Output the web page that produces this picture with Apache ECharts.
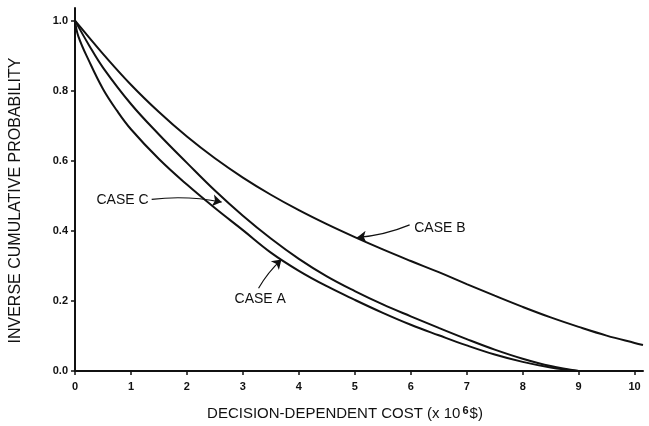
<!DOCTYPE html>
<html>
<head>
<meta charset="utf-8">
<script src="https://cdn.jsdelivr.net/npm/echarts@6/dist/echarts.min.js"></script>
<style>
  html, body { margin: 0; padding: 0; background: #fff; }
  #chart { width: 649px; height: 426px; }
</style>
</head>
<body>
<div id="chart"></div>
<script>
// Decision-dependent cost (10^6 $) against inverse cumulative probability
const costA = [0, 0.06, 0.25, 0.5, 0.75, 1, 1.5, 2, 2.5, 3, 3.5, 4, 4.5, 5, 5.5, 6, 6.5, 7, 7.5, 8, 8.5, 9];
const probA = [1.0, 0.955, 0.885, 0.805, 0.743, 0.69, 0.605, 0.532, 0.465, 0.402, 0.338, 0.286, 0.242, 0.203, 0.166, 0.132, 0.102, 0.073, 0.047, 0.026, 0.01, 0.0];

const costB = [0, 0.25, 0.5, 1, 1.5, 2, 2.5, 3, 3.5, 4, 4.5, 5, 5.5, 6, 6.5, 7, 7.5, 8, 8.5, 9, 9.5, 10, 10.15];
const probB = [1.0, 0.952, 0.905, 0.817, 0.739, 0.669, 0.607, 0.552, 0.503, 0.459, 0.419, 0.382, 0.347, 0.314, 0.282, 0.248, 0.215, 0.183, 0.153, 0.126, 0.101, 0.08, 0.074];

const costC = [0, 0.25, 0.5, 1, 1.5, 2, 2.5, 3, 3.5, 4, 4.5, 5, 5.5, 6, 6.5, 7, 7.5, 8, 8.5, 9];
const probC = [1.0, 0.93, 0.866, 0.762, 0.675, 0.594, 0.515, 0.443, 0.378, 0.32, 0.27, 0.228, 0.19, 0.156, 0.123, 0.091, 0.061, 0.035, 0.014, 0.0];

const xTicks = [0, 1, 2, 3, 4, 5, 6, 7, 8, 9, 10];
const yTicks = [0, 0.2, 0.4, 0.6, 0.8, 1.0];

// Case labels and their pointer arrows, in data units
const caseNames = ['CASE A', 'CASE B', 'CASE C'];
const labelAt = [[3.31, 0.206], [6.52, 0.407], [0.85, 0.487]];
const arrowFrom = [[3.28, 0.236], [5.98, 0.417], [1.37, 0.49]];
const arrowTo = [[3.69, 0.318], [5.04, 0.381], [2.62, 0.482]];

const FONT = '"Liberation Sans", Arial, Helvetica, sans-serif';
const pairs = (xs, ys) => xs.map((x, i) => [x, ys[i]]);

const curve = (name, xs, ys) => ({
  name, type: 'line', data: pairs(xs, ys), showSymbol: false,
  smooth: 0.4,
  lineStyle: { color: '#111', width: 2 }, z: 3
});

const chart = echarts.init(document.getElementById('chart'), null, { renderer: 'canvas' });
chart.setOption({
  animation: false,
  backgroundColor: '#fff',
  grid: { left: 68, right: 6, top: 8, bottom: 49, containLabel: false },
  xAxis: {
    type: 'value', min: 0, max: 10.15, interval: 1,
    name: '{t|DECISION-DEPENDENT COST (x 10}{s|6}{t|$)}',
    nameLocation: 'middle', nameGap: 34,
    nameTextStyle: {
      padding: [0, 28, 0, 0],
      rich: {
        t: { fontFamily: FONT, fontSize: 15, color: '#111', verticalAlign: 'bottom' },
        s: { fontFamily: FONT, fontSize: 11, fontWeight: 'bold', color: '#111', verticalAlign: 'top', padding: [0, 1, 5, 2] }
      }
    },
    axisLine: { lineStyle: { color: '#111', width: 2 } },
    axisTick: { show: true, inside: false, length: 4, customValues: xTicks, lineStyle: { color: '#111', width: 1.5 } },
    axisLabel: { customValues: xTicks, margin: 10, fontFamily: FONT, fontSize: 11, fontWeight: 'bold', color: '#111' },
    splitLine: { show: false }
  },
  yAxis: {
    type: 'value', min: 0, max: 1.036, interval: 0.2,
    name: 'INVERSE CUMULATIVE PROBABILITY',
    nameLocation: 'middle', nameGap: 51, nameRotate: 90,
    nameTextStyle: { fontFamily: FONT, fontSize: 16, color: '#111', padding: [0, 22, 0, 0] },
    axisLine: { lineStyle: { color: '#111', width: 2 } },
    axisTick: { show: true, inside: false, length: 4, customValues: yTicks, lineStyle: { color: '#111', width: 1.5 } },
    axisLabel: {
      customValues: yTicks, margin: 7, fontFamily: FONT, fontSize: 11, fontWeight: 'bold', color: '#111',
      formatter: v => v.toFixed(1)
    },
    splitLine: { show: false }
  },
  series: [
    curve('CASE A', costA, probA),
    curve('CASE B', costB, probB),
    curve('CASE C', costC, probC),
    {
      type: 'lines', coordinateSystem: 'cartesian2d', z: 4,
      symbol: ['none', 'arrow'], symbolSize: [5, 9],
      lineStyle: { color: '#111', width: 1.2, curveness: 0.08, opacity: 1 },
      data: caseNames.map((n, i) => ({ coords: [arrowFrom[i], arrowTo[i]] }))
    },
    {
      type: 'scatter', symbolSize: 0, z: 5,
      itemStyle: { opacity: 1 },
      data: caseNames.map((n, i) => ({ name: n, value: labelAt[i] })),
      label: {
        show: true, position: 'inside', formatter: '{b}', opacity: 1,
        fontFamily: FONT, fontSize: 14, color: '#111'
      }
    }
  ]
});
</script>
</body>
</html>
